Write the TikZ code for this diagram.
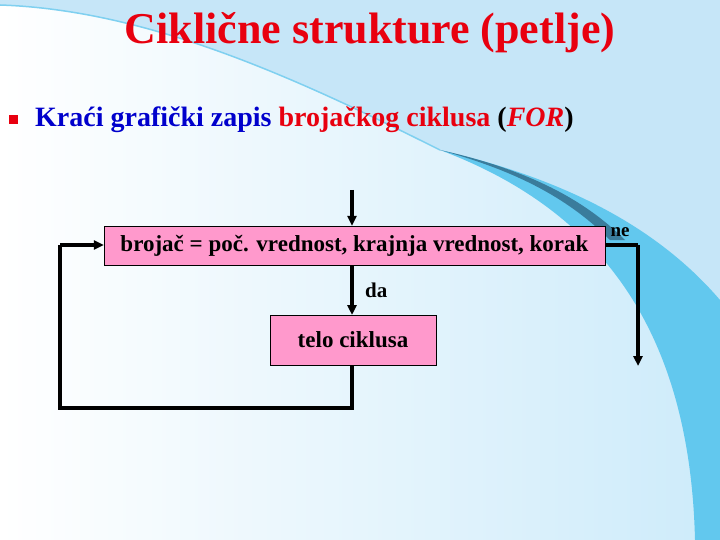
\documentclass[tikz,border=0pt]{standalone}
\usepackage{fontspec}
\setmainfont{Liberation Serif}
\usetikzlibrary{arrows.meta}
\definecolor{pinkbox}{HTML}{FF99CC}
\definecolor{tred}{HTML}{E8000F}
\definecolor{tblue}{HTML}{0000CC}
\definecolor{bgr}{HTML}{CDEBFA}
\definecolor{swl}{HTML}{C6E6F8}
\definecolor{band}{HTML}{62C8EE}
\definecolor{dark}{HTML}{3A7C9C}
\definecolor{arc}{HTML}{7FD0F0}
\begin{document}
\begin{tikzpicture}[x=1pt,y=-1pt,
  blk/.style={draw=black,fill=pinkbox,minimum height=39pt,inner sep=2pt,font=\fontsize{23}{25}\selectfont\bfseries},
  conn/.style={line width=3.5pt},
  arr/.style={line width=3.5pt,-{Triangle[length=10pt,width=9pt]}}]
\useasboundingbox (0,0) rectangle (720,540);
\shade[left color=white,right color=bgr] (0,0) rectangle (720,540);
% decorative swoosh
\fill[swl] (0,5) .. controls (150,10) and (300,80) .. (440,150) .. controls (600,210) and (700,330) .. (705,540) -- (720,540) -- (720,0) -- (0,0) -- cycle;
\fill[band] (440,150) .. controls (600,210) and (690,330) .. (695,540) -- (720,540) -- (720,300) .. controls (660,230) and (570,180) .. (440,150) -- cycle;
\fill[dark] (440,150) .. controls (520,172) and (570,200) .. (610,240) -- (625,240) .. controls (580,195) and (520,168) .. (440,150) -- cycle;
\draw[arc,line width=1.5pt] (0,5) .. controls (150,10) and (300,80) .. (440,150);
% title
\node[text=tred,font=\fontsize{44}{46}\selectfont\bfseries] (title) at (370,33) {Ciklične strukture (petlje)};
\node[fill=tred,minimum size=9pt,inner sep=0pt] (bul) at (13,120) {};
\node[anchor=west,font=\fontsize{28}{30}\selectfont\bfseries,inner sep=0pt] (sub) at (35,120)
  {\textcolor{tblue}{Kraći grafički zapis} \textcolor{tred}{brojačkog ciklusa} (\textcolor{tred}{\textit{FOR}})};
% flowchart
\node[blk,minimum width=501pt] (b1) at (354.5,245.5) {brojač = poč. vrednost, krajnja vrednost, korak};
\node[blk,minimum width=166pt,minimum height=50pt] (b2) at (353,340) {telo ciklusa};
\coordinate (in) at (352,190);
\draw[arr] (in) -- (in |- b1.north);
\draw[arr] (352,265) -- (352,315) node[midway,right=8pt,font=\fontsize{21}{22}\selectfont\bfseries] {da};
\coordinate (c1) at (352,408);
\coordinate (c2) at (60,408);
\coordinate (c3) at (60,245);
\draw[conn,line join=miter] (b2.south -| c1) -- (c1) -- (c2) -- (c3);
\draw[arr] (c3) -- (b1.west |- c3);
\coordinate (r1) at (638,245);
\coordinate (r2) at (638,366);
\draw[conn] (b1.east |- r1) -- (r1);
\draw[arr] (r1) -- (r2);
\node[font=\fontsize{19}{20}\selectfont\bfseries] (ne) at (620,232) {ne};
\end{tikzpicture}
\end{document}
